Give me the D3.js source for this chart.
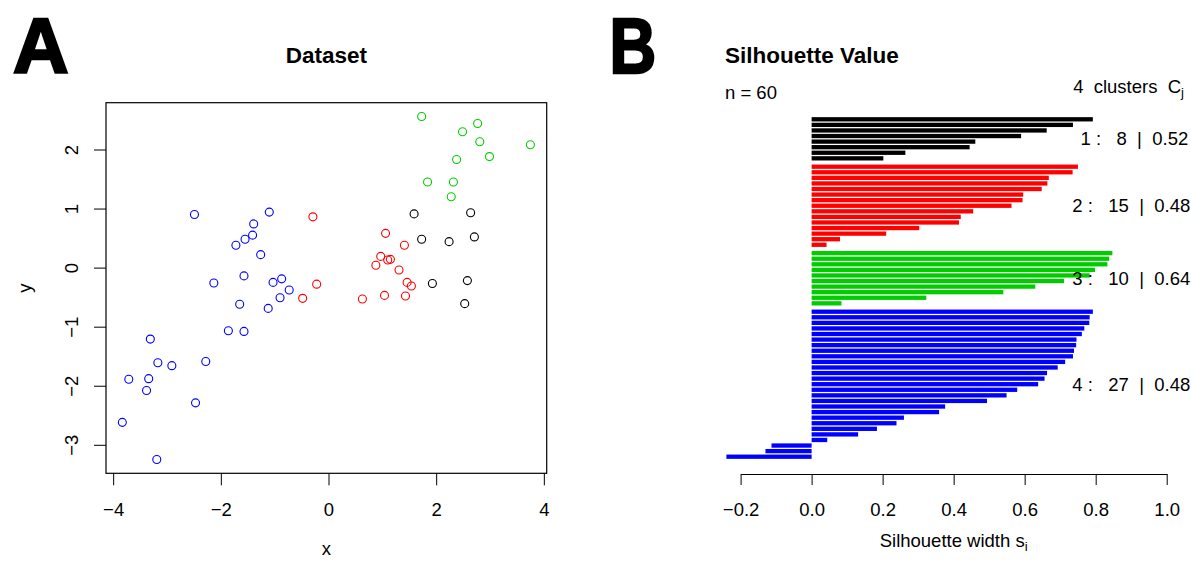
<!DOCTYPE html>
<html>
<head>
<meta charset="utf-8">
<script src="https://cdn.jsdelivr.net/npm/d3@7"></script>
<style>
body { margin: 0; background: #fff; }
svg text { font-family: "Liberation Sans", Arial, Helvetica, sans-serif; fill: #000; }
</style>
</head>
<body>
<svg id="fig" width="1191" height="561"></svg>
<script>

// cluster colours (1 black, 2 red, 3 green, 4 blue)
var clusterColors = ["#000000", "#ff0000", "#00cd00", "#0000ff"];

// dataset points, per cluster [x, y]
var pts1 = [[1.59,0.91],[2.64,0.93],[1.73,0.48],[2.24,0.44],[2.71,0.52],[1.93,-0.27],[2.58,-0.22],[2.53,-0.61]];
var pts2 = [[-0.29,0.86],[1.06,0.58],[1.41,0.38],[0.97,0.19],[1.10,0.13],[1.15,0.14],[0.88,0.04],[1.31,-0.04],
            [1.46,-0.25],[1.54,-0.31],[-0.22,-0.28],[-0.48,-0.52],[0.63,-0.53],[1.04,-0.47],[1.43,-0.48]];
var pts3 = [[1.73,2.56],[2.77,2.44],[2.49,2.30],[2.81,2.13],[3.75,2.08],[2.99,1.88],[2.38,1.83],[1.84,1.45],[2.32,1.45],[2.28,1.20]];
var pts4 = [[-2.49,0.90],[-1.10,0.94],[-1.39,0.74],[-1.41,0.55],[-1.55,0.48],[-1.72,0.38],[-1.26,0.22],[-1.57,-0.14],
            [-2.13,-0.26],[-1.03,-0.25],[-0.87,-0.19],[-0.73,-0.38],[-0.90,-0.51],[-1.65,-0.62],[-1.12,-0.69],[-1.86,-1.07],
            [-1.57,-1.08],[-3.31,-1.21],[-2.28,-1.59],[-3.17,-1.61],[-2.91,-1.66],[-3.71,-1.89],[-3.34,-1.88],[-3.38,-2.08],
            [-2.47,-2.29],[-3.83,-2.62],[-3.19,-3.25]];

// silhouette widths, per cluster, sorted
var sil1 = [0.792,0.736,0.662,0.590,0.461,0.445,0.264,0.202];
var sil2 = [0.750,0.735,0.668,0.664,0.648,0.596,0.594,0.563,0.455,0.420,0.415,0.303,0.210,0.080,0.042];
var sil3 = [0.847,0.838,0.833,0.798,0.783,0.711,0.630,0.540,0.323,0.084];
var sil4 = [0.792,0.783,0.782,0.768,0.761,0.746,0.745,0.739,0.736,0.714,0.693,0.663,0.656,0.638,0.579,0.549,
            0.494,0.376,0.359,0.260,0.239,0.184,0.131,0.044,-0.113,-0.130,-0.240];

var xTicks = [-4, -2, 0, 2, 4];
var yTicks = [-3, -2, -1, 0, 1, 2];
var silTicks = [-0.2, 0, 0.2, 0.4, 0.6, 0.8, 1.0];

var svg = d3.select("#fig");
var baseFont = 18.5;

// panel letters
svg.append("text").attr("x", 13).attr("y", 72.5).text("A")
    .style("font-size", "77px").style("font-weight", "bold")
    .attr("stroke", "#000").attr("stroke-width", 2.5).attr("stroke-linejoin", "miter");
svg.append("text").attr("transform", "translate(609.5,72.5) scale(0.84,1)").text("B")
    .style("font-size", "77px").style("font-weight", "bold")
    .attr("stroke", "#000").attr("stroke-width", 2.5).attr("stroke-linejoin", "miter");

// ---------- panel A: scatter ----------
var box = {left: 106, right: 546.7, top: 102.7, bottom: 473.3};

var allPts = pts1.concat(pts2, pts3, pts4);
function padded(ext) {
    var r = ext[1] - ext[0];
    return [ext[0] - 0.04 * r, ext[1] + 0.04 * r];
}
var x = d3.scaleLinear().domain(padded(d3.extent(allPts, function(d) { return d[0]; }))).range([box.left, box.right]);
var y = d3.scaleLinear().domain(padded(d3.extent(allPts, function(d) { return d[1]; }))).range([box.bottom, box.top]);

svg.append("text").attr("x", (box.left + box.right) / 2).attr("y", 63)
    .attr("text-anchor", "middle").style("font-size", "22.5px").style("font-weight", "bold").text("Dataset");

var gx = svg.append("g").attr("transform", "translate(0," + box.bottom + ")")
    .call(d3.axisBottom(x).tickValues(xTicks).tickFormat(d3.format("d")).tickSize(12).tickPadding(18).tickSizeOuter(0));
var gy = svg.append("g").attr("transform", "translate(" + box.left + ",0)")
    .call(d3.axisLeft(y).tickValues(yTicks).tickFormat(d3.format("d")).tickSize(12).tickSizeOuter(0));
[gx, gy].forEach(function(g) {
    g.select(".domain").remove();
    g.selectAll("line").attr("stroke", "#000").attr("stroke-width", 1);
    g.selectAll("text").style("font-size", baseFont + "px").attr("font-family", null);
});
gy.selectAll(".tick text")
    .attr("x", null).attr("dy", "0.35em")
    .attr("text-anchor", "middle")
    .attr("transform", "translate(-34.5,0) rotate(-90)");

svg.append("rect").attr("x", box.left).attr("y", box.top)
    .attr("width", box.right - box.left).attr("height", box.bottom - box.top)
    .attr("fill", "none").attr("stroke", "#000").attr("stroke-width", 1.2);

[pts1, pts2, pts3, pts4].forEach(function(pts, k) {
    svg.append("g").selectAll("circle").data(pts).enter().append("circle")
        .attr("cx", function(d) { return x(d[0]); })
        .attr("cy", function(d) { return y(d[1]); })
        .attr("r", 4)
        .attr("fill", "none")
        .attr("stroke", clusterColors[k])
        .attr("stroke-width", 1.1);
});

svg.append("text").attr("x", (box.left + box.right) / 2).attr("y", 555)
    .attr("text-anchor", "middle").style("font-size", baseFont + "px").text("x");
svg.append("text").attr("transform", "translate(31," + ((box.top + box.bottom) / 2) + ") rotate(-90)")
    .attr("text-anchor", "middle").style("font-size", baseFont + "px").text("y");

// ---------- panel B: silhouette ----------
var sils = [sil1, sil2, sil3, sil4];
var rows = [];
var idx = 0;
sils.forEach(function(s, k) {
    s.forEach(function(v) {
        rows.push({s: v, k: k, pos: idx + 0.5 * k});
        idx++;
    });
});

var xs = d3.scaleLinear().domain([-0.2, 1.0]).range([740.6, 1166.7]);
var ys = d3.scaleLinear().domain([0, d3.max(rows, function(d) { return d.pos; })]).range([119.3, 456.7]);
var barH = 4.3;

svg.append("text").attr("x", 725).attr("y", 63)
    .style("font-size", "22.5px").style("font-weight", "bold").text("Silhouette Value");
svg.append("text").attr("x", 725).attr("y", 98.5)
    .style("font-size", baseFont + "px").text("n = " + rows.length);

var ct = svg.append("text").attr("x", 1184).attr("y", 93).attr("text-anchor", "end")
    .style("font-size", baseFont + "px").style("white-space", "pre");
ct.append("tspan").text(sils.length + "  clusters  C");
ct.append("tspan").attr("dy", 4).style("font-size", "13px").text("j");

svg.append("g").selectAll("rect").data(rows).enter().append("rect")
    .attr("x", function(d) { return xs(Math.min(0, d.s)); })
    .attr("y", function(d) { return ys(d.pos) - barH / 2; })
    .attr("width", function(d) { return Math.abs(xs(d.s) - xs(0)); })
    .attr("height", barH)
    .attr("fill", function(d) { return clusterColors[d.k]; });

sils.forEach(function(s, k) {
    var members = rows.filter(function(d) { return d.k === k; });
    var yc = d3.mean(members, function(d) { return ys(d.pos); });
    var t = svg.append("text").attr("y", yc).attr("dy", "0.35em")
        .style("font-size", baseFont + "px").style("white-space", "pre")
        .text((k + 1) + " :   " + s.length + "  |  " + d3.mean(s).toFixed(2));
    var w = t.node().getComputedTextLength();
    t.attr("x", xs(1) - 0.8 * w);
});

var gs = svg.append("g").attr("transform", "translate(0,474)")
    .call(d3.axisBottom(xs).tickValues(silTicks).tickFormat(d3.format(".1f")).tickSize(11).tickPadding(18).tickSizeOuter(0));
gs.select(".domain").attr("stroke", "#000").attr("stroke-width", 1);
gs.selectAll("line").attr("stroke", "#000");
gs.selectAll("text").style("font-size", baseFont + "px").attr("font-family", null);

var st = svg.append("text").attr("x", (xs(-0.2) + xs(1)) / 2).attr("y", 547)
    .attr("text-anchor", "middle").style("font-size", baseFont + "px");
st.append("tspan").text("Silhouette width s");
st.append("tspan").attr("dy", 4).style("font-size", "13px").text("i");

</script>
</body>
</html>
